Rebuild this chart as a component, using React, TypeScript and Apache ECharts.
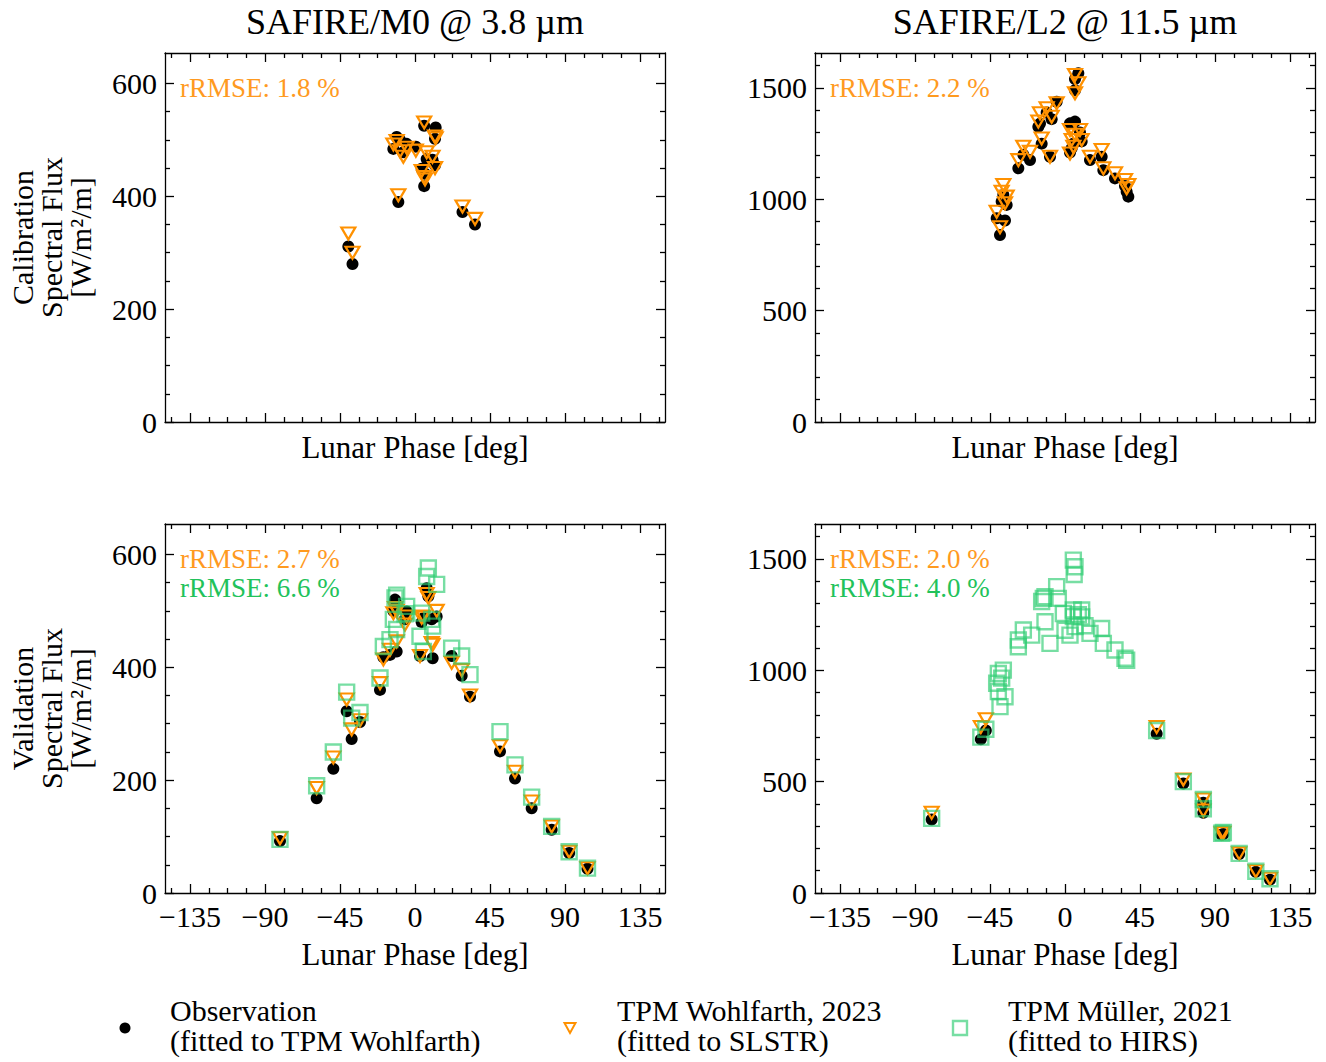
import React, { useEffect, useRef } from "react";
import * as echarts from "echarts";

// ---------------- DATA ----------------
const TITLES = ["SAFIRE/M0 @ 3.8 µm", "SAFIRE/L2 @ 11.5 µm"];
const ROW_LABELS = ["Calibration\nSpectral Flux\n[W/m²/m]", "Validation\nSpectral Flux\n[W/m²/m]"];
const X_LABEL = "Lunar Phase [deg]";
const X_MAJOR = [-135, -90, -45, 0, 45, 90, 135];
const X_MINOR = [-146.25, -123.75, -112.5, -101.25, -78.75, -67.5, -56.25, -33.75, -22.5, -11.25,
  11.25, 22.5, 33.75, 56.25, 67.5, 78.75, 101.25, 112.5, 123.75, 146.25];
const Y_MAJOR_M0 = [0, 200, 400, 600];
const Y_MINOR_M0 = [50, 100, 150, 250, 300, 350, 450, 500, 550];
const Y_MAJOR_L2 = [0, 500, 1000, 1500];
const Y_MINOR_L2 = [100, 200, 300, 400, 600, 700, 800, 900, 1100, 1200, 1300, 1400, 1600];

const LEGEND_NAMES = [
  "Observation\n(fitted to TPM Wohlfarth)",
  "TPM Wohlfarth, 2023\n(fitted to SLSTR)",
  "TPM Müller, 2021\n(fitted to HIRS)",
];

// Calibration, SAFIRE/M0
const CAL_M0_PHASE = [-40, -37.5, -10, -13, -11, -9, -7, -5, 0.5, 4, 5.5, 5.5, 12.4, 12, 10.5, 12, 6, 28.5, 36, 7];
const CAL_M0_OBS = [311, 280, 390, 484, 505, 500, 478, 493, 488, 449, 418, 525, 522, 502, 465, 455, 440, 372, 350, 466];
const CAL_M0_WOHL = [334, 300, 402, 492, 498, 480, 470, 486, 481, 445, 434, 531, 503, 506, 470, 450, 430, 382, 360, 478];
const CAL_M0_RRMSE = ["rRMSE: 1.8 %"];

// Calibration, SAFIRE/L2
const CAL_L2_PHASE = [-39, -41, -36, -35, -38, -37, -28, -21, -25, -9, -14, -15, -16, -11, -5, -8,
  6, 8, 6, 3, 6, 9, 4, 5, 3, 10, 15, 22, 23, 30, 36, 38, 37];
const CAL_L2_OBS = [840, 915, 905, 975, 990, 1020, 1139, 1176, 1200, 1191, 1250, 1340, 1326, 1390, 1438, 1360,
  1540, 1566, 1490, 1341, 1349, 1300, 1229, 1250, 1210, 1260, 1176, 1191, 1131, 1094, 1060, 1012, 1034];
const CAL_L2_WOHL = [875, 944, 982, 1012, 1034, 1064, 1176, 1214, 1236, 1191, 1273, 1386, 1349, 1409, 1431, 1371,
  1558, 1521, 1476, 1311, 1290, 1311, 1266, 1236, 1206, 1266, 1191, 1221, 1139, 1117, 1087, 1064, 1050];
const CAL_L2_RRMSE = ["rRMSE: 2.2 %"];

// Validation, SAFIRE/M0
const VAL_M0_PHASE = [-81, -59, -49, -41, -38, -33, -21, -19, -15, -11, -13, -12, -11, -5, -6, 3, 4, 5, 8, 7,
  10, 10.6, 13, 22, 28, 33, 51, 60, 70, 82, 92.5, 103.5];
const VAL_M0_OBS = [92, 168, 220, 322, 273, 303, 360, 418, 422, 428, 500, 520, 512, 499, 485, 420, 480, 487, 526, 540,
  485, 416, 490, 420, 385, 348, 251, 203, 150, 112, 71, 43];
const VAL_M0_WOHL = [97, 186, 240, 343, 290, 306, 372, 414, 431, 446, 496, 505, 500, 490, 476, 420, 488, 490, 523, 530,
  443, 440, 500, 408, 395, 350, 260, 215, 162, 118, 73, 44];
const VAL_M0_MUEL = [95, 190, 250, 356, 310, 320, 381, 437, 449, 467, 485, 523, 528, 508, 495, 455, 496, 428, 576, 561,
  485, 473, 547, 434, 420, 387, 286, 227, 170, 118, 73, 44];
const VAL_M0_RRMSE = ["rRMSE: 2.7 %", "rRMSE: 6.6 %"];

// Validation, SAFIRE/L2
const VAL_L2_PHASE = [-80, -50.5, -47.5, 55, 71, 83, 83, 94, 95, 104.5, 114.5, 123];
const VAL_L2_OBS = [330, 690, 730, 715, 492, 360, 405, 262, 265, 175, 95, 60];
const VAL_L2_WOHL = [360, 745, 780, 745, 510, 370, 420, 268, 270, 178, 98, 64];
const VAL_L2_MUEL = [335, 700, 735, 730, 500, 378, 420, 268, 272, 178, 98, 64];
const VAL_L2_MUEL_ONLY_PHASE = [5, 6, 5.5, -13, -14, -12, -5, -4, 5, 10, 3, 6, 5, -1, 15, 22, 23, 30, 36, 37,
  -12, -9, -20, -25, -28, -28, -37, -40, -41, -36, -39, -40, -38, 8, 10, 0, 12];
const VAL_L2_MUEL_ONLY = [1495, 1465, 1430, 1323, 1309, 1330, 1376, 1323, 1271, 1271, 1158, 1196, 1241, 1255, 1166, 1188,
  1121, 1091, 1054, 1045, 1218, 1121, 1158, 1181, 1136, 1106, 1001, 986, 942, 881, 837, 905, 965, 1250, 1240, 1180, 1200];
const VAL_L2_RRMSE = ["rRMSE: 2.0 %", "rRMSE: 4.0 %"];

// ---------------- STYLE / LAYOUT ----------------
const FONT = "'Liberation Serif', 'Times New Roman', serif";
const BLACK = "#000000";
const ORANGE = "#ff9100";
const ORANGE_TXT = "#ff9a1f";
const GREEN = "#2ecc71";
const GREEN_TXT = "#22c25a";
const X_MIN = -150;
const X_MAX = 150;
const Y_MAX_M0 = 654;
const Y_MAX_L2 = 1657;

const GRIDS = [
  { left: 165, top: 53, width: 500, height: 369 },
  { left: 815, top: 53, width: 500, height: 369 },
  { left: 165, top: 524, width: 500, height: 369 },
  { left: 815, top: 524, width: 500, height: 369 },
];

const fmt = (v: number) => (v < 0 ? "\u2212" + Math.abs(v) : String(v));
const lineStyle = { color: BLACK, width: 1.3 };

function xAxesFor(gi: number, showLabels: boolean) {
  const base = { gridIndex: gi, type: "value", min: X_MIN, max: X_MAX, splitLine: { show: false } };
  return [
    {
      ...base,
      position: "bottom",
      axisLine: { show: true, onZero: false, lineStyle },
      axisTick: { show: true, inside: true, length: 9, customValues: X_MAJOR, lineStyle },
      axisLabel: {
        show: showLabels, customValues: X_MAJOR, formatter: fmt, color: BLACK,
        fontFamily: FONT, fontSize: 30, margin: 8,
      },
      name: X_LABEL,
      nameLocation: "middle",
      nameGap: showLabels ? 46 : 10,
      nameTextStyle: { color: BLACK, fontFamily: FONT, fontSize: 31, verticalAlign: "top" },
    },
    {
      ...base,
      position: "top",
      axisLine: { show: true, onZero: false, lineStyle },
      axisTick: { show: true, inside: true, length: 9, customValues: X_MAJOR, lineStyle },
      axisLabel: { show: false },
    },
    {
      ...base,
      position: "bottom",
      axisLine: { show: false, onZero: false },
      axisTick: { show: true, inside: true, length: 5, customValues: X_MINOR, lineStyle },
      axisLabel: { show: false },
    },
    {
      ...base,
      position: "top",
      axisLine: { show: false, onZero: false },
      axisTick: { show: true, inside: true, length: 5, customValues: X_MINOR, lineStyle },
      axisLabel: { show: false },
    },
  ];
}

function yAxesFor(gi: number, major: number[], minor: number[], yMax: number, name: string) {
  const base = { gridIndex: gi, type: "value", min: 0, max: yMax, splitLine: { show: false } };
  return [
    {
      ...base,
      position: "left",
      axisLine: { show: true, onZero: false, lineStyle },
      axisTick: { show: true, inside: true, length: 9, customValues: major, lineStyle },
      axisLabel: { show: true, customValues: major, formatter: fmt, color: BLACK, fontFamily: FONT, fontSize: 30, margin: 8 },
      name,
      nameLocation: "middle",
      nameRotate: 90,
      nameGap: 70,
      nameTextStyle: { color: BLACK, fontFamily: FONT, fontSize: 30, lineHeight: 29 },
    },
    {
      ...base,
      position: "right",
      axisLine: { show: true, onZero: false, lineStyle },
      axisTick: { show: true, inside: true, length: 9, customValues: major, lineStyle },
      axisLabel: { show: false },
    },
    {
      ...base,
      position: "left",
      axisLine: { show: false, onZero: false },
      axisTick: { show: true, inside: true, length: 5, customValues: minor, lineStyle },
      axisLabel: { show: false },
    },
    {
      ...base,
      position: "right",
      axisLine: { show: false, onZero: false },
      axisTick: { show: true, inside: true, length: 5, customValues: minor, lineStyle },
      axisLabel: { show: false },
    },
  ];
}

const zip = (xs: number[], ys: number[]) => xs.map((x, i) => [x, ys[i]]);

function obsSeries(axisIdx: number, xs: number[], ys: number[]) {
  return {
    type: "scatter", name: LEGEND_NAMES[0], xAxisIndex: axisIdx * 4, yAxisIndex: axisIdx * 4,
    data: zip(xs, ys), symbol: "circle", symbolSize: 12, itemStyle: { color: BLACK, opacity: 1 }, z: 2,
  };
}
function wohlSeries(axisIdx: number, xs: number[], ys: number[]) {
  return {
    type: "scatter", name: LEGEND_NAMES[1], xAxisIndex: axisIdx * 4, yAxisIndex: axisIdx * 4,
    data: zip(xs, ys), symbol: "triangle", symbolRotate: 180, symbolSize: [14, 12],
    itemStyle: { color: "transparent", borderColor: ORANGE, borderWidth: 2.2, opacity: 1 }, z: 3,
  };
}
function muelSeries(axisIdx: number, xs: number[], ys: number[]) {
  return {
    type: "scatter", name: LEGEND_NAMES[2], xAxisIndex: axisIdx * 4, yAxisIndex: axisIdx * 4,
    data: zip(xs, ys), symbol: "rect", symbolSize: 15,
    itemStyle: { color: "transparent", borderColor: GREEN, borderWidth: 2.4, opacity: 0.65 }, z: 4,
  };
}

function rrmseTexts(gi: number, texts: string[]) {
  const g = GRIDS[gi];
  const colors = [ORANGE_TXT, GREEN_TXT];
  return texts.map((t, i) => ({
    type: "text",
    left: g.left + 15,
    top: g.top + 21 + i * 29,
    style: { text: t, fill: colors[i], font: `27px ${FONT}` },
  }));
}

function buildOption() {
  const xAxis = [
    ...xAxesFor(0, false),
    ...xAxesFor(1, false),
    ...xAxesFor(2, true),
    ...xAxesFor(3, true),
  ];
  const yAxis = [
    ...yAxesFor(0, Y_MAJOR_M0, Y_MINOR_M0, Y_MAX_M0, ROW_LABELS[0]),
    ...yAxesFor(1, Y_MAJOR_L2, Y_MINOR_L2, Y_MAX_L2, ""),
    ...yAxesFor(2, Y_MAJOR_M0, Y_MINOR_M0, Y_MAX_M0, ROW_LABELS[1]),
    ...yAxesFor(3, Y_MAJOR_L2, Y_MINOR_L2, Y_MAX_L2, ""),
  ];
  const series = [
    obsSeries(0, CAL_M0_PHASE, CAL_M0_OBS),
    wohlSeries(0, CAL_M0_PHASE, CAL_M0_WOHL),
    obsSeries(1, CAL_L2_PHASE, CAL_L2_OBS),
    wohlSeries(1, CAL_L2_PHASE, CAL_L2_WOHL),
    obsSeries(2, VAL_M0_PHASE, VAL_M0_OBS),
    wohlSeries(2, VAL_M0_PHASE, VAL_M0_WOHL),
    muelSeries(2, VAL_M0_PHASE, VAL_M0_MUEL),
    obsSeries(3, VAL_L2_PHASE, VAL_L2_OBS),
    wohlSeries(3, VAL_L2_PHASE, VAL_L2_WOHL),
    muelSeries(3, [...VAL_L2_PHASE, ...VAL_L2_MUEL_ONLY_PHASE], [...VAL_L2_MUEL, ...VAL_L2_MUEL_ONLY]),
  ];

  const legendY = 1025;
  const legendFont = `30px ${FONT}`;
  const graphic: any[] = [
    ...rrmseTexts(0, CAL_M0_RRMSE),
    ...rrmseTexts(1, CAL_L2_RRMSE),
    ...rrmseTexts(2, VAL_M0_RRMSE),
    ...rrmseTexts(3, VAL_L2_RRMSE),
    { type: "circle", shape: { cx: 125, cy: legendY + 3, r: 5.5 }, style: { fill: BLACK } },
    {
      type: "polygon",
      shape: { points: [[564.5, legendY - 2], [575.5, legendY - 2], [570, legendY + 8]] },
      style: { fill: "none", stroke: ORANGE, lineWidth: 2 },
    },
    {
      type: "rect",
      shape: { x: 953, y: legendY - 4, width: 14, height: 14 },
      style: { fill: "none", stroke: GREEN, lineWidth: 2.4, opacity: 0.65 },
    },
    { type: "text", x: 170, y: legendY, style: { text: LEGEND_NAMES[0], fill: BLACK, font: legendFont, lineHeight: 30, verticalAlign: "middle" } },
    { type: "text", x: 617, y: legendY, style: { text: LEGEND_NAMES[1], fill: BLACK, font: legendFont, lineHeight: 30, verticalAlign: "middle" } },
    { type: "text", x: 1008, y: legendY, style: { text: LEGEND_NAMES[2], fill: BLACK, font: legendFont, lineHeight: 30, verticalAlign: "middle" } },
  ];

  return {
    animation: false,
    backgroundColor: "#ffffff",
    textStyle: { fontFamily: FONT },
    title: [
      { text: TITLES[0], left: 415, top: 4, textAlign: "center", padding: 0, textStyle: { fontFamily: FONT, fontSize: 36, fontWeight: "normal", color: BLACK } },
      { text: TITLES[1], left: 1065, top: 4, textAlign: "center", padding: 0, textStyle: { fontFamily: FONT, fontSize: 36, fontWeight: "normal", color: BLACK } },
    ],
    grid: GRIDS.map((g) => ({ ...g, containLabel: false })),
    xAxis,
    yAxis,
    series,
    graphic,
  };
}

export default function App() {
  const ref = useRef<HTMLDivElement>(null);
  useEffect(() => {
    if (!ref.current) return;
    const chart = echarts.init(ref.current, undefined, { renderer: "svg" });
    chart.setOption(buildOption() as any);
    return () => chart.dispose();
  }, []);
  return (
    <div
      ref={ref}
      style={{ position: "absolute", left: 0, top: 0, width: 1326, height: 1062, background: "#fff" }}
    />
  );
}
